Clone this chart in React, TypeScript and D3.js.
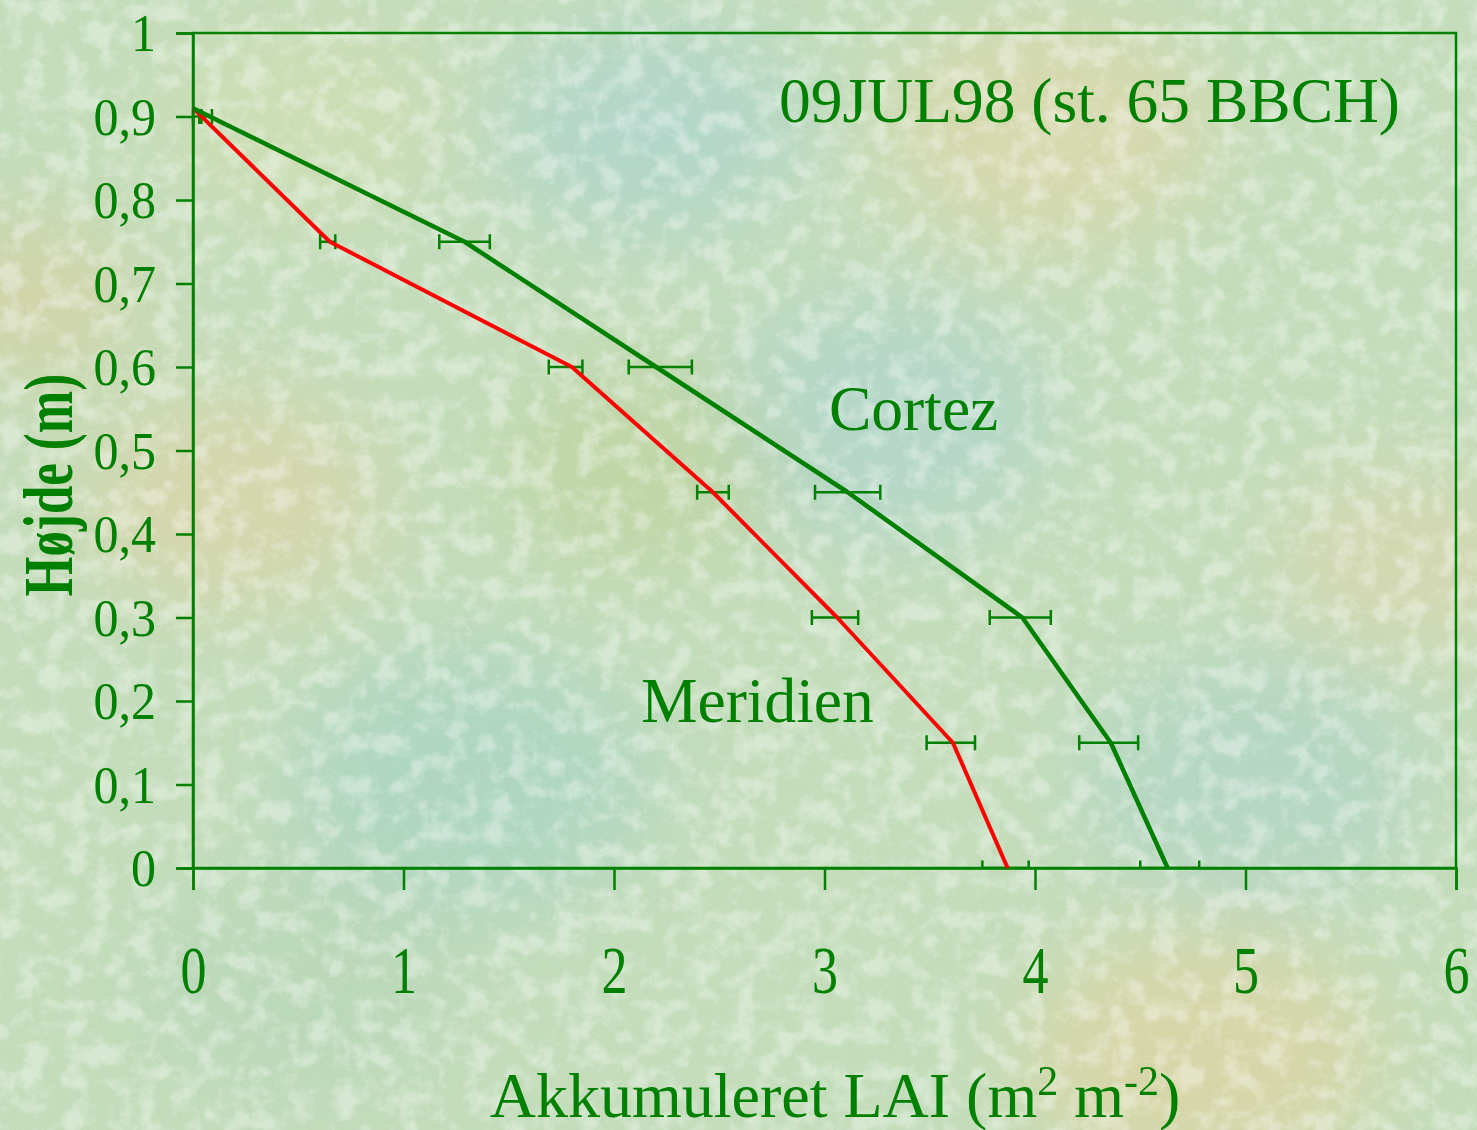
import { useEffect, useRef } from "react";
import * as d3 from "d3";

// line vertices (height in m, accumulated LAI)
const lineHeights = [0.91, 0.75, 0.6, 0.45, 0.3, 0.15, 0];
const cortezLine = [0, 1.29, 2.2, 3.11, 3.94, 4.36, 4.63];
const meridienLine = [0, 0.65, 1.8, 2.47, 3.06, 3.61, 3.87];

// error bars (mean ± err)
const barHeights = [0.9, 0.75, 0.6, 0.45, 0.3, 0.15, 0];
const cortezMean = [0.06, 1.29, 2.22, 3.11, 3.93, 4.35, 4.64];
const cortezErr = [0.03, 0.12, 0.15, 0.155, 0.145, 0.14, 0.14];
const meridienMean = [0.02, 0.64, 1.77, 2.47, 3.05, 3.6, 3.86];
const meridienErr = [0.02, 0.036, 0.08, 0.075, 0.11, 0.115, 0.11];

const xTicks = [0, 1, 2, 3, 4, 5, 6];
const yTicks = [0, 0.1, 0.2, 0.3, 0.4, 0.5, 0.6, 0.7, 0.8, 0.9, 1];

const GREEN = "#008000";
const RED = "#ff0000";
const FONT = "'Liberation Serif', 'Times New Roman', serif";

export default function App() {
  const svgRef = useRef<SVGSVGElement>(null);
  const width = 1477;
  const height = 1130;

  useEffect(() => {
    if (!svgRef.current) return;
    const svg = d3.select(svgRef.current);
    svg.selectAll("*").remove();
    svg.attr("width", width).attr("height", height);

    const defs = svg.append("defs");

    // soft blotchy background
    const blur = defs.append("filter").attr("id", "blur").attr("x", "-50%").attr("y", "-50%").attr("width", "200%").attr("height", "200%");
    blur.append("feGaussianBlur").attr("stdDeviation", 45);

    const tex = defs.append("filter").attr("id", "tex").attr("x", 0).attr("y", 0).attr("width", "100%").attr("height", "100%");
    tex
      .append("feTurbulence")
      .attr("type", "fractalNoise")
      .attr("baseFrequency", 0.045)
      .attr("numOctaves", 4)
      .attr("seed", 3)
      .attr("result", "n");
    tex
      .append("feColorMatrix")
      .attr("in", "n")
      .attr("type", "matrix")
      .attr("values", "0 0 0 0 1  0 0 0 0 1  0 0 0 0 1  0 -3.5 0 0 1.95");

    const grain = defs.append("filter").attr("id", "grain").attr("x", 0).attr("y", 0).attr("width", "100%").attr("height", "100%");
    grain
      .append("feTurbulence")
      .attr("type", "fractalNoise")
      .attr("baseFrequency", 0.9)
      .attr("numOctaves", 1)
      .attr("seed", 7)
      .attr("result", "n");
    grain
      .append("feColorMatrix")
      .attr("in", "n")
      .attr("type", "matrix")
      .attr("values", "0 0 0 0 0.85  0 0 0 0 0.95  0 0 0 0 0.85  1.4 0 0 0 -0.6");

    svg.append("rect").attr("width", width).attr("height", height).attr("fill", "#c2dcb9");

    const blobs = [
      { x: 650, y: 130, r: 110, c: "#abd3cc" },
      { x: 880, y: 420, r: 120, c: "#acd3cb" },
      { x: 470, y: 780, r: 130, c: "#a6d1c2" },
      { x: 1250, y: 780, r: 120, c: "#add3c6" },
      { x: 1050, y: 130, r: 120, c: "#dcd6a8" },
      { x: 230, y: 500, r: 110, c: "#d9d2a6" },
      { x: 1200, y: 1060, r: 130, c: "#dcd2a0" },
      { x: 30, y: 300, r: 80, c: "#d6cfa0" },
      { x: 640, y: 470, r: 100, c: "#bcd29c" },
      { x: 1400, y: 560, r: 90, c: "#d8d4ac" },
      { x: 300, y: 980, r: 120, c: "#b6d6b6" },
      { x: 300, y: 120, r: 100, c: "#cfdcb0" },
    ];
    svg
      .append("g")
      .attr("filter", "url(#blur)")
      .selectAll("ellipse")
      .data(blobs)
      .join("ellipse")
      .attr("cx", (d) => d.x)
      .attr("cy", (d) => d.y)
      .attr("rx", (d) => d.r * 1.4)
      .attr("ry", (d) => d.r)
      .attr("fill", (d) => d.c)
      .attr("opacity", 0.75);

    svg.append("rect").attr("width", width).attr("height", height).attr("filter", "url(#tex)").attr("opacity", 0.35);
    svg.append("rect").attr("width", width).attr("height", height).attr("filter", "url(#grain)").attr("opacity", 0.35);

    // plot area
    const left = 193;
    const right = 1456;
    const top = 33;
    const bottom = 868;

    const x = d3.scaleLinear().domain([0, 6]).range([left, right]);
    const y = d3.scaleLinear().domain([0, 1]).range([bottom, top]);

    defs
      .append("clipPath")
      .attr("id", "plotclip")
      .append("rect")
      .attr("x", left - 2)
      .attr("y", top)
      .attr("width", right - left + 4)
      .attr("height", bottom - top);

    // frame
    svg
      .append("rect")
      .attr("x", left)
      .attr("y", top)
      .attr("width", right - left)
      .attr("height", bottom - top)
      .attr("fill", "none")
      .attr("stroke", GREEN)
      .attr("stroke-width", 2.5);

    const fmt = (d: number) => String(d).replace(".", ",");

    const yAxis = svg
      .append("g")
      .attr("transform", `translate(${left},0)`)
      .call(d3.axisLeft(y).tickValues(yTicks).tickSize(17).tickPadding(20).tickFormat((d) => fmt(d as number)));
    yAxis.select(".domain").attr("stroke", GREEN).attr("stroke-width", 2.5);
    yAxis.selectAll(".tick line").attr("stroke", GREEN).attr("stroke-width", 2.5);
    yAxis
      .selectAll(".tick text")
      .attr("fill", GREEN)
      .attr("font-family", FONT)
      .attr("font-size", 50)
      .attr("dy", "0.33em")
      .attr("transform", "scale(1,1.06)");

    const xAxis = svg
      .append("g")
      .attr("transform", `translate(0,${bottom})`)
      .call(d3.axisBottom(x).tickValues(xTicks).tickSize(22).tickFormat((d) => String(d)));
    xAxis.select(".domain").attr("stroke", GREEN).attr("stroke-width", 2.5);
    xAxis.selectAll(".tick line").attr("stroke", GREEN).attr("stroke-width", 2.5);
    xAxis
      .selectAll(".tick text")
      .attr("fill", GREEN)
      .attr("font-family", FONT)
      .attr("font-size", 52)
      .attr("y", 0)
      .attr("dy", 0)
      .attr("transform", "translate(0,125) scale(1,1.3)");

    // error bars
    const bars = svg.append("g").attr("clip-path", "url(#plotclip)");
    const drawBars = (means: number[], errs: number[]) => {
      barHeights.forEach((h, i) => {
        const x0 = x(means[i] - errs[i]);
        const x1 = x(means[i] + errs[i]);
        const yy = y(h);
        const g = bars.append("g").attr("stroke", GREEN).attr("stroke-width", 2.5);
        g.append("line").attr("x1", x0).attr("x2", x1).attr("y1", yy).attr("y2", yy);
        g.append("line").attr("x1", x0).attr("x2", x0).attr("y1", yy - 7.5).attr("y2", yy + 7.5);
        g.append("line").attr("x1", x1).attr("x2", x1).attr("y1", yy - 7.5).attr("y2", yy + 7.5);
      });
    };
    drawBars(meridienMean, meridienErr);
    drawBars(cortezMean, cortezErr);

    // lines
    const line = d3
      .line<number>()
      .x((d) => x(d))
      .y((_, i) => y(lineHeights[i]));

    svg
      .append("path")
      .attr("d", line(meridienLine))
      .attr("fill", "none")
      .attr("stroke", RED)
      .attr("stroke-width", 4)
      .attr("stroke-linejoin", "round");
    svg
      .append("path")
      .attr("d", line(cortezLine))
      .attr("fill", "none")
      .attr("stroke", GREEN)
      .attr("stroke-width", 4.5)
      .attr("stroke-linejoin", "round");

    // annotations
    const label = (tx: number, ty: number, text: string, anchor = "start") =>
      svg
        .append("text")
        .attr("x", tx)
        .attr("y", ty)
        .attr("text-anchor", anchor)
        .attr("fill", GREEN)
        .attr("font-family", FONT)
        .attr("font-size", 63.5)
        .text(text);

    label(1400, 122, "09JUL98 (st. 65 BBCH)", "end");
    label(829, 430, "Cortez");
    label(641, 722, "Meridien");

    // axis titles
    const xt = svg
      .append("text")
      .attr("x", 835)
      .attr("y", 1117)
      .attr("text-anchor", "middle")
      .attr("fill", GREEN)
      .attr("font-family", FONT)
      .attr("font-size", 64);
    xt.append("tspan").text("Akkumuleret LAI (m");
    xt.append("tspan").attr("font-size", 42).attr("dy", -22).text("2");
    xt.append("tspan").attr("dy", 22).text(" m");
    xt.append("tspan").attr("font-size", 42).attr("dy", -22).text("-2");
    xt.append("tspan").attr("dy", 22).text(")");

    svg
      .append("text")
      .attr("transform", `translate(72,485) rotate(-90) scale(1,1.35)`)
      .attr("text-anchor", "middle")
      .attr("fill", GREEN)
      .attr("font-family", FONT)
      .attr("font-weight", "bold")
      .attr("font-size", 51)
      .text("Højde (m)");
  }, []);

  return <svg ref={svgRef} style={{ position: "fixed", left: 0, top: 0, display: "block" }} />;
}
